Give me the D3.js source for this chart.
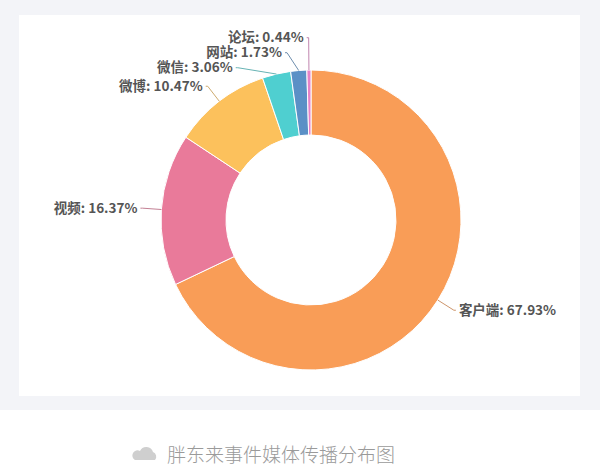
<!DOCTYPE html>
<html><head><meta charset="utf-8">
<script src="https://cdn.jsdelivr.net/npm/d3@7/dist/d3.min.js"></script>
<style>html,body{margin:0;padding:0;background:#fff;}svg{display:block;}</style>
</head><body><svg id="c" width="600" height="476"></svg>
<script>
const categories = ["客户端", "视频", "微博", "微信", "网站", "论坛"];
const values = [67.93, 16.37, 10.47, 3.06, 1.73, 0.44];
const colors = ["#F99D57", "#E97A9A", "#FCC15C", "#4FCFD0", "#5B90C6", "#E682C8"];
const caption = "胖东来事件媒体传播分布图";

const svg = d3.select("#c");
const W = 600, H = 476;
// page background + card
svg.append("rect").attr("x",0).attr("y",0).attr("width",W).attr("height",410).attr("fill","#f3f4f8");
svg.append("rect").attr("x",19).attr("y",15).attr("width",561).attr("height",381).attr("fill","#ffffff");

const cx = 311, cy = 220, rOuter = 150, rInner = 85;
const data = categories.map((c,i)=>({name:c, value:values[i], color:colors[i]}));
const pie = d3.pie().value(d=>d.value).sort(null).startAngle(0).endAngle(2*Math.PI);
const arcs = pie(data);
const arc = d3.arc().innerRadius(rInner).outerRadius(rOuter);

const g = svg.append("g").attr("transform",`translate(${cx},${cy})`);
g.selectAll("path.slice").data(arcs).enter().append("path")
  .attr("class","slice").attr("d",arc).attr("fill",d=>d.data.color)
  .attr("stroke","#fff").attr("stroke-width",1);

// label layout (ECharts-like)
const R2 = rOuter + 19, len2 = 2, gap = 3, minGap = 15;
const labels = arcs.map(d=>{
  const a = (d.startAngle + d.endAngle)/2;
  return {d, a, side: Math.sin(a) >= 0 ? 1 : -1,
    p0: [Math.sin(a)*rOuter, -Math.cos(a)*rOuter],
    y: -Math.cos(a)*R2, x: Math.sin(a)*R2, shifted:false};
});
function spread(list){
  list.sort((a,b)=>a.y-b.y);
  let changed = true, iter = 0;
  while(changed && iter < 50){
    changed = false; iter++;
    let clusters = [[list[0]]];
    for(let i=1;i<list.length;i++){
      const last = clusters[clusters.length-1];
      const lastY = last[last.length-1].y;
      if(list[i].y - lastY < minGap - 0.01){ last.push(list[i]); }
      else clusters.push([list[i]]);
    }
    clusters.forEach(cl=>{
      if(cl.length>1){
        const mean = d3.mean(cl, l=>l.y);
        const start = mean - (cl.length-1)*minGap/2;
        cl.forEach((l,k)=>{ const ny = start + k*minGap; if(Math.abs(ny-l.y)>0.01){changed=true;} l.y = ny; l.shifted = true; });
      }
    });
  }
}
spread(labels.filter(l=>l.side<0));
spread(labels.filter(l=>l.side>0));
labels.forEach(l=>{
  if(l.shifted && Math.abs(l.y) < R2){
    l.x = l.side * Math.sqrt(R2*R2 - l.y*l.y);
  }
  l.p1 = [l.x, l.y];
  l.p2 = [l.x + l.side*len2, l.y];
});

g.selectAll("path.lead").data(labels).enter().append("path")
  .attr("class","lead")
  .attr("d",l=>d3.line()([l.p0,l.p1,l.p2]))
  .attr("fill","none").attr("stroke",l=>d3.interpolateRgb(l.d.data.color,"#8a8a8a")(0.4)).attr("stroke-width",1);

g.selectAll("text.lbl").data(labels).enter().append("text")
  .attr("class","lbl")
  .attr("x",l=>l.p2[0] + l.side*gap)
  .attr("y",l=>l.p2[1])
  .attr("dy","0.35em")
  .attr("text-anchor",l=>l.side>0?"start":"end")
  .attr("font-family","'Noto Sans CJK SC','Noto Sans',sans-serif")
  .attr("font-size",13.5)
  .attr("font-weight","bold")
  .attr("fill","#555")
  .text(l=>`${l.d.data.name}: ${d3.format(".2f")(l.d.data.value)}%`);

// caption with cloud icon
const cap = svg.append("g");
const ic = cap.append("g").attr("transform","translate(145,455)").attr("fill","#cfcfcf");
ic.append("path").attr("d","M-10,5 L10,5 A5,5 0 0 0 8,-3 A7,7 0 0 0 -5,-4 A5,5 0 0 0 -10,5 Z");
cap.append("text").attr("x",167).attr("y",455).attr("dy","0.35em")
  .attr("font-family","'Noto Sans CJK SC',sans-serif").attr("font-size",19)
  .attr("font-weight",300).attr("fill","#9a9a9a").text(caption);
</script></body></html>
